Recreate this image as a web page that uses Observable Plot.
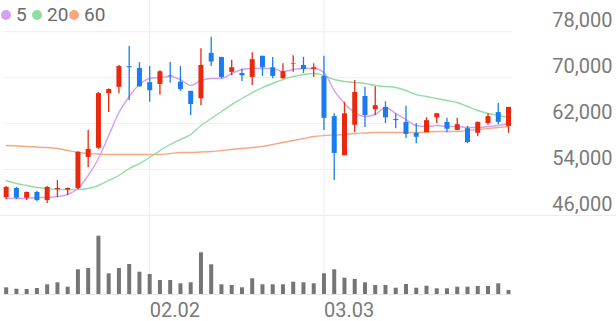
<!DOCTYPE html>
<html><head><meta charset="utf-8">
<script src="https://cdn.jsdelivr.net/npm/d3@7"></script>
<script src="https://cdn.jsdelivr.net/npm/@observablehq/plot@0.6"></script>
<style>
body{margin:0;background:#fff;font-family:Roboto,"Noto Sans",sans-serif;}
#wrap{position:relative;width:616px;height:321px;overflow:hidden;}
#wrap svg{display:block;}
.lg{position:absolute;top:5px;font-size:19px;line-height:20px;color:#6b6b6b;}
.dot{position:absolute;top:10px;width:10px;height:10px;border-radius:50%;}
</style></head>
<body><div id="wrap"></div>
<script>
const opens = [49100,50700,49000,50000,48600,50500,50400,50700,56100,57700,67200,68300,71900,71600,69100,68800,70300,69200,67600,66300,74200,73500,70900,70700,70000,73700,71700,69800,72300,72100,71400,70200,63200,56400,61700,66700,64400,64800,62700,62200,60300,60400,63000,62200,60800,61100,60300,62000,63900,61500];
const closes = [50900,49000,50000,48600,50900,50700,50700,57000,57500,67200,67900,71900,71700,68400,67700,71000,70200,67900,65300,72100,72700,70000,71700,70300,73100,71700,70200,71000,72400,71400,71700,62900,56800,63700,67400,63400,65100,63000,62500,60100,59600,62500,63700,61000,61800,58700,62200,63200,62200,64800];
const highs = [51000,50900,50100,50200,51000,52100,50800,57100,60800,67400,68000,72100,75400,72600,71900,71200,72600,71900,67600,75000,77000,73500,73000,71500,74300,73700,73500,72400,73800,73500,72400,73700,63700,65700,69500,68300,68400,65800,63700,65000,62000,63000,63700,62900,62900,61500,62200,63700,65500,64800];
const lows = [48800,48800,48600,48400,48100,49100,49500,50500,54300,57500,63900,67200,66000,68300,65700,66900,69000,67600,63400,65100,71900,69800,70300,69300,68600,70200,69800,69700,70900,70700,70000,60800,52100,56400,60400,61300,63400,62000,61100,59400,58500,60400,62000,60400,60800,58500,59700,61700,61800,60300];
const volumes = [670,530,500,600,970,1170,730,2470,2600,5830,2070,2600,3000,2230,2000,1400,1400,1070,1170,4170,2970,970,900,670,1570,970,970,970,1230,1170,1070,2070,2470,1630,1500,1170,900,900,630,1000,630,830,570,570,730,730,800,800,1070,400];
const ma5 = [48960,48960,48960,49130,49130,49300,49650,50700,52960,55910,59910,63910,66700,68780,69830,70000,70170,69650,68610,69480,69830,69830,70700,71390,71570,71570,71570,71040,71390,71570,71570,70870,67740,65480,63910,63220,63570,64780,63740,62700,61650,61480,61650,61480,61480,61300,61300,61480,61650,62000];
const ma20 = [52090,51570,51220,50870,50700,50520,50520,50520,50700,51220,52090,52960,54170,55040,56090,57300,58350,59220,60090,61650,62870,64090,65300,66350,67390,68260,68960,69650,70170,70520,70700,70350,69650,69300,69130,68960,68610,68440,68260,67740,67040,66700,66350,66000,65650,64960,64260,63740,63390,63040];
const ma60 = [58170,58090,58000,57910,57830,57650,57300,56960,56780,56700,56610,56610,56610,56610,56610,56610,56780,56960,56960,57040,57130,57300,57480,57650,57830,58000,58350,58700,59040,59390,59740,59910,60000,60090,60260,60350,60440,60440,60440,60440,60440,60520,60610,60610,60610,60780,60960,61130,61300,61480];
const priceTicks = [46000,54000,62000,70000,78000];
const tickIndex = [14,31];
const tickLabels = ["02.02","03.03"];
const maNames = ["5","20","60"];
const maColors = ["#d69ff2","#93dca4","#f6a883"];

const UP = "#e8290e", DOWN = "#1a7cf0";
const candles = opens.map((o,i)=>({i,o,c:closes[i],h:highs[i],l:lows[i],col:closes[i]>=o?UP:DOWN}));
const vols = volumes.map((v,i)=>({i,v}));
const xDomain = [-0.26,49.39];
const fmt = d3.format(",");
const font = {fontFamily:"Roboto, 'Noto Sans', sans-serif"};

const price = Plot.plot({
  width:616,height:215,marginLeft:3,marginRight:104,marginTop:0,marginBottom:0,
  style:{...font,overflow:"visible"},
  x:{domain:xDomain,axis:null},
  y:{domain:[46000,83400],axis:null},
  marks:[
    Plot.ruleY(priceTicks.slice(1),{stroke:"#f1f1f1",strokeWidth:1.2}),
    Plot.ruleX(tickIndex,{stroke:"#efefef",strokeWidth:1.2}),
    Plot.line(ma60,{x:(d,i)=>i,y:d=>d,stroke:maColors[2],strokeWidth:1.4,curve:"monotone-x"}),
    Plot.line(ma20,{x:(d,i)=>i,y:d=>d,stroke:maColors[1],strokeWidth:1.4,curve:"monotone-x"}),
    Plot.line(ma5,{x:(d,i)=>i,y:d=>d,stroke:maColors[0],strokeWidth:1.4,curve:"monotone-x"}),
    Plot.ruleX(candles,{x:"i",y1:"l",y2:"h",stroke:"col",strokeWidth:1.3}),
    Plot.ruleX(candles,{x:"i",y1:"o",y2:"c",stroke:"col",strokeWidth:5}),
    Plot.text(priceTicks,{y:d=>d,text:d=>fmt(d),frameAnchor:"right",dx:100,dy:-5,textAnchor:"end",lineAnchor:"bottom",fontSize:20,fill:"#7a7a7a"})
  ]
});
price.style.borderBottom = "1px solid #ececec";

const volume = Plot.plot({
  width:616,height:105,marginLeft:3,marginRight:104,marginTop:0,marginBottom:27,
  style:{...font,overflow:"visible"},
  x:{domain:xDomain,axis:null},
  y:{domain:[0,7800],axis:null},
  marks:[
    Plot.ruleX(tickIndex,{stroke:"#efefef",strokeWidth:1.2}),
    Plot.ruleY([0],{stroke:"#e6e6e6"}),
    Plot.ruleX(vols,{x:"i",y1:0,y2:"v",stroke:"#757575",strokeWidth:4}),
    Plot.text(tickIndex,{x:d=>d,text:(d,i)=>tickLabels[i],frameAnchor:"bottom",dy:16,textAnchor:"start",lineAnchor:"middle",fontSize:20,fill:"#7a7a7a"})
  ]
});

const wrap = document.getElementById("wrap");
wrap.appendChild(price);
wrap.appendChild(volume);
const lgPos = [[1,16],[32,47],[69,84]];
maNames.forEach((n,k)=>{
  const dot = document.createElement("div");
  dot.className="dot"; dot.style.left=lgPos[k][0]+"px"; dot.style.background=maColors[k];
  const t = document.createElement("div");
  t.className="lg"; t.style.left=lgPos[k][1]+"px"; t.textContent=n;
  wrap.appendChild(dot); wrap.appendChild(t);
});
</script></body></html>
